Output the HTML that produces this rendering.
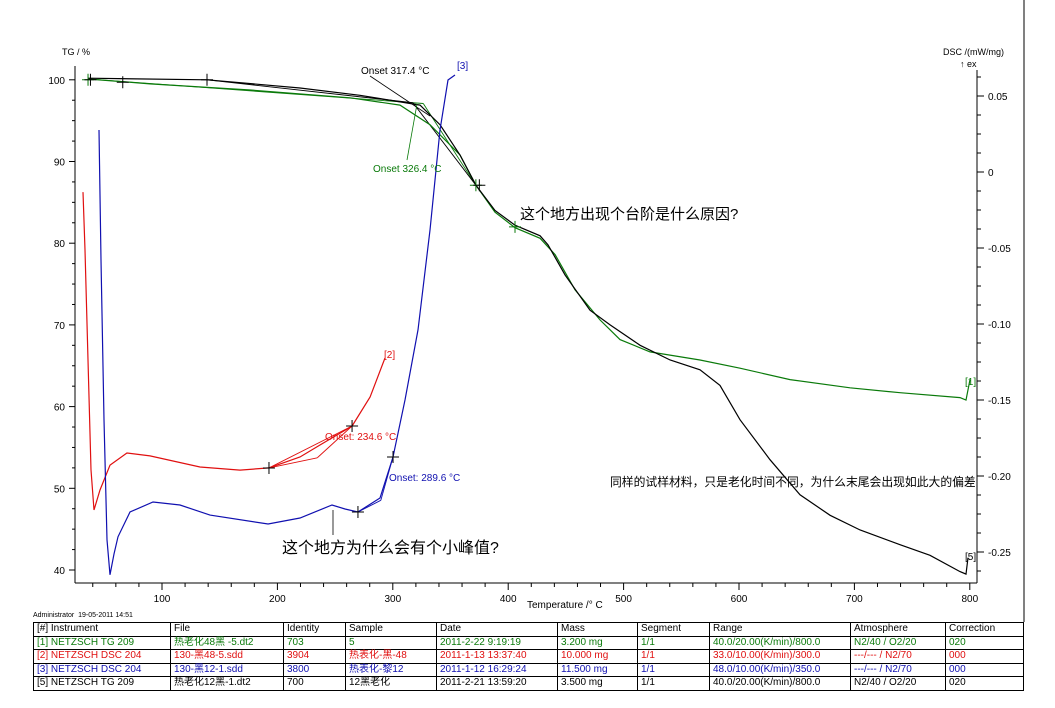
<!DOCTYPE html>
<html><head><meta charset="utf-8">
<style>
html,body{margin:0;padding:0;background:#fff;}
body{width:1055px;height:708px;overflow:hidden;position:relative;font-family:"Liberation Sans","Noto Sans CJK SC",sans-serif;}
svg{position:absolute;left:0;top:0;}
table{position:absolute;left:33px;top:622px;border-collapse:collapse;font-size:10px;font-family:"Liberation Sans","Noto Sans CJK SC",sans-serif;width:991px;}
td{border:1px solid #000;padding:0 3px;height:12.5px;line-height:12px;white-space:nowrap;}
.g td{color:#0a7a0a}.r td{color:#e01010}.b td{color:#1010b0}.k td{color:#000}
</style></head><body>
<svg id="chart" width="1055" height="708" font-family="Liberation Sans, Noto Sans CJK SC, sans-serif"></svg>
<div style="position:absolute;left:33px;top:612px;font-size:7px">Administrator&nbsp; 19-05-2011 14:51</div>
<table>
<tr class="k"><td style="width:130px">[#] Instrument</td><td style="width:106px">File</td><td style="width:55px">Identity</td><td style="width:84px">Sample</td><td style="width:114px">Date</td><td style="width:73px">Mass</td><td style="width:65px">Segment</td><td style="width:134px">Range</td><td style="width:88px">Atmosphere</td><td>Correction</td></tr>
<tr class="g"><td>[1] NETZSCH TG 209</td><td>热老化48黑 -5.dt2</td><td>703</td><td>5</td><td>2011-2-22 9:19:19</td><td>3.200 mg</td><td>1/1</td><td>40.0/20.00(K/min)/800.0</td><td>N2/40 / O2/20</td><td>020</td></tr>
<tr class="r"><td>[2] NETZSCH DSC 204</td><td>130-黑48-5.sdd</td><td>3904</td><td>热表化-黑-48</td><td>2011-1-13 13:37:40</td><td>10.000 mg</td><td>1/1</td><td>33.0/10.00(K/min)/300.0</td><td>---/--- / N2/70</td><td>000</td></tr>
<tr class="b"><td>[3] NETZSCH DSC 204</td><td>130-黑12-1.sdd</td><td>3800</td><td>热表化-黎12</td><td>2011-1-12 16:29:24</td><td>11.500 mg</td><td>1/1</td><td>48.0/10.00(K/min)/350.0</td><td>---/--- / N2/70</td><td>000</td></tr>
<tr class="k"><td>[5] NETZSCH TG 209</td><td>热老化12黑-1.dt2</td><td>700</td><td>12黑老化</td><td>2011-2-21 13:59:20</td><td>3.500 mg</td><td>1/1</td><td>40.0/20.00(K/min)/800.0</td><td>N2/40 / O2/20</td><td>020</td></tr>
</table>
<script>
// data arrays (temperature °C, TG %, DSC mW/mg)
const tg1T=[35.9,89.6,176.3,263,306.2,332.2,358.2,372,388.6,405.9,427.6,440.6,457.9,479.6,496.9,522.9,566.2,600.9,644.2,696.2,739.5,791.5,796.7,800.2];
const tg1V=[100.1,99.5,98.75,97.8,96.9,94.5,90.8,87.1,83.8,81.9,80.6,78.6,74.3,70.6,68.2,66.7,65.7,64.7,63.3,62.3,61.7,61.1,60.8,63.3];
const tg5T=[35.9,139,219.6,271.6,323.6,340.9,358.2,372,388.6,405.9,427.6,434.5,449.3,470.9,488.3,514.3,540.3,566.2,583.5,600.9,626.9,652.9,678.9,704.9,739.5,765.5,791.5,796.7,798.4];
const tg5V=[100.2,100,99,98.1,96.9,94.5,90.8,87.1,84,82.2,80.9,79.8,76.1,71.8,70,67.5,65.7,64.5,62.6,58.4,53.5,49.2,46.7,44.9,43.1,41.8,39.8,39.5,41.5];
const dsc2T=[31.5,33.3,35.9,38.5,41.1,46.3,54.9,69.6,89.6,132.9,167.6,192.7,219.6,236.9,264.7,280.3,293.2];
const dsc2V=[-0.0132,-0.0513,-0.1237,-0.196,-0.2224,-0.2092,-0.1928,-0.1849,-0.1868,-0.1941,-0.1961,-0.1947,-0.1875,-0.1796,-0.1671,-0.148,-0.1224];
const dsc3T=[45.4,47.1,49.7,52.3,54.9,58.4,61.9,72.3,92.2,115.6,141.6,191.9,219.6,247.3,258.6,269.8,288.9,300.2,310.6,321.8,332.2,340.9,347.8,353.9];
const dsc3V=[0.0276,-0.0579,-0.163,-0.242,-0.265,-0.2513,-0.24,-0.2237,-0.2171,-0.2191,-0.2257,-0.2316,-0.2276,-0.2191,-0.2217,-0.2237,-0.2145,-0.1875,-0.15,-0.1039,-0.0382,0.0276,0.0605,0.0638];
const xTicks=[100,200,300,400,500,600,700,800];
const yTicks=[40,50,60,70,80,90,100];
const rTicks=[0.05,0,-0.05,-0.10,-0.15,-0.20,-0.25];
const rLabels=["0.05","0","-0.05","-0.10","-0.15","-0.20","-0.25"];

const X=t=>46.6+1.154*t, Y=v=>570-(v-40)*8.17, R=d=>172-d*1520;
const svg=document.getElementById('chart');const NS='http://www.w3.org/2000/svg';
function mk(tag,at,parent){const e=document.createElementNS(NS,tag);for(const k in at)e.setAttribute(k,at[k]);(parent||svg).appendChild(e);return e;}
function txt(x,y,s,at){const e=mk('text',Object.assign({x:x,y:y,'font-size':10},at||{}));e.textContent=s;return e;}

// frame
let e;
e=mk('line',{x1:1024,y1:0,x2:1024,y2:622,stroke:'#000'});


e=mk('line',{x1:75,y1:66,x2:75,y2:583,stroke:'#000'});


e=mk('line',{x1:75,y1:583,x2:977,y2:583,stroke:'#000'});


e=mk('line',{x1:977,y1:70,x2:977,y2:583,stroke:'#000'});


for(let t=40;t<=800;t+=20){mk('line',{x1:X(t),y1:583,x2:X(t),y2:t%100==0?590:587,stroke:'#000'});}
xTicks.forEach(t=>{e=txt(X(t),602,String(t),{'text-anchor':'middle'});

});
for(let v=40;v<=100;v+=2.5){mk('line',{x1:75,y1:Y(v),x2:v%10==0?69:72,y2:Y(v),stroke:'#000'});}
yTicks.forEach(v=>{e=txt(65,Y(v)+4,String(v),{'text-anchor':'end'});

});
for(let i=0;i<=26;i++){const d=0.0625-i*0.0125;const major=Math.abs(Math.round(d*20)-d*20)<1e-6;mk('line',{x1:977,y1:R(d),x2:major?984:981,y2:R(d),stroke:'#000'});}
rTicks.forEach((d,i)=>{e=txt(988,R(d)+4,rLabels[i]);

});
e=txt(62,55,'TG / %',{'font-size':9});


e=txt(943,55,'DSC /(mW/mg)',{'font-size':9});


e=txt(960,67,'↑ ex',{'font-size':9});


e=txt(527,608,'Temperature /° C',{'font-size':10});



function series(T,V,f,col,name){const p=T.map((t,i)=>X(t).toFixed(1)+','+f(V[i]).toFixed(1)).join(' ');const el=mk('polyline',{points:p,fill:'none',stroke:col,'stroke-width':1.2});

}
function seg(t1,v1,t2,v2,f,col){mk('line',{x1:X(t1),y1:f(v1),x2:X(t2),y2:f(v2),stroke:col,'stroke-width':0.9});}
function cross(t,v,f,col){const x=X(t),y=f(v);mk('path',{d:`M${x-6} ${y}H${x+6}M${x} ${y-6}V${y+6}`,stroke:col,'stroke-width':1});}

// onset constructions
seg(35.9,100.1,326.4,97.1,Y,'#0a7a0a');seg(326.4,97.1,372,87.1,Y,'#0a7a0a');
seg(139,100,317.4,97.2,Y,'#000');seg(317.4,97.2,372,87.1,Y,'#000');
seg(192.7,-0.1947,234.6,-0.188,R,'#e01010');seg(234.6,-0.188,264.7,-0.1671,R,'#e01010');seg(192.7,-0.1947,264.7,-0.1671,R,'#e01010');
seg(269.8,-0.2237,289.6,-0.216,R,'#1010b0');seg(289.6,-0.216,300.2,-0.1875,R,'#1010b0');

series(tg1T,tg1V,Y,'#0a7a0a','tg-curve-1');
series(tg5T,tg5V,Y,'#000','tg-curve-5');
series(dsc2T,dsc2V,R,'#e01010','dsc-curve-2');
series(dsc3T,dsc3V,R,'#1010b0','dsc-curve-3');

cross(35.9,100,Y,'#0a7a0a');cross(372,87.1,Y,'#0a7a0a');cross(405.9,82,Y,'#0a7a0a');
cross(139,100,Y,'#000');cross(66,99.7,Y,'#000');cross(375,87.1,Y,'#000');cross(38,100,Y,'#000');
cross(192.7,-0.1947,R,'#000');cross(264.7,-0.1671,R,'#000');
cross(269.8,-0.2237,R,'#000');cross(300.2,-0.1875,R,'#000');

// labels & callouts
mk('line',{x1:370,y1:76,x2:430,y2:116,stroke:'#000','stroke-width':0.8});
mk('line',{x1:407,y1:160,x2:417,y2:104,stroke:'#0a7a0a','stroke-width':0.8});
mk('line',{x1:333,y1:510,x2:333,y2:535,stroke:'#000','stroke-width':0.8});
txt(361,74,'Onset 317.4 °C',{'font-size':10});
txt(373,172,'Onset 326.4 °C',{'font-size':10,fill:'#0a7a0a'});
txt(325,440,'Onset: 234.6 °C',{'font-size':10,fill:'#e01010'});
txt(389,481,'Onset: 289.6 °C',{'font-size':10,fill:'#1010b0'});
txt(457,69,'[3]',{'font-size':10,fill:'#1010b0'});
txt(384,358,'[2]',{'font-size':10,fill:'#e01010'});
txt(965,385,'[1]',{'font-size':10,fill:'#0a7a0a'});
txt(965,560,'[5]',{'font-size':10,fill:'#000'});
e=txt(520,219,'这个地方出现个台阶是什么原因?',{'font-size':15});


e=txt(282,553,'这个地方为什么会有个小峰值?',{'font-size':16});


e=txt(610,486,'同样的试样材料，只是老化时间不同，为什么末尾会出现如此大的偏差',{'font-size':11.8});


</script>
</body></html>
